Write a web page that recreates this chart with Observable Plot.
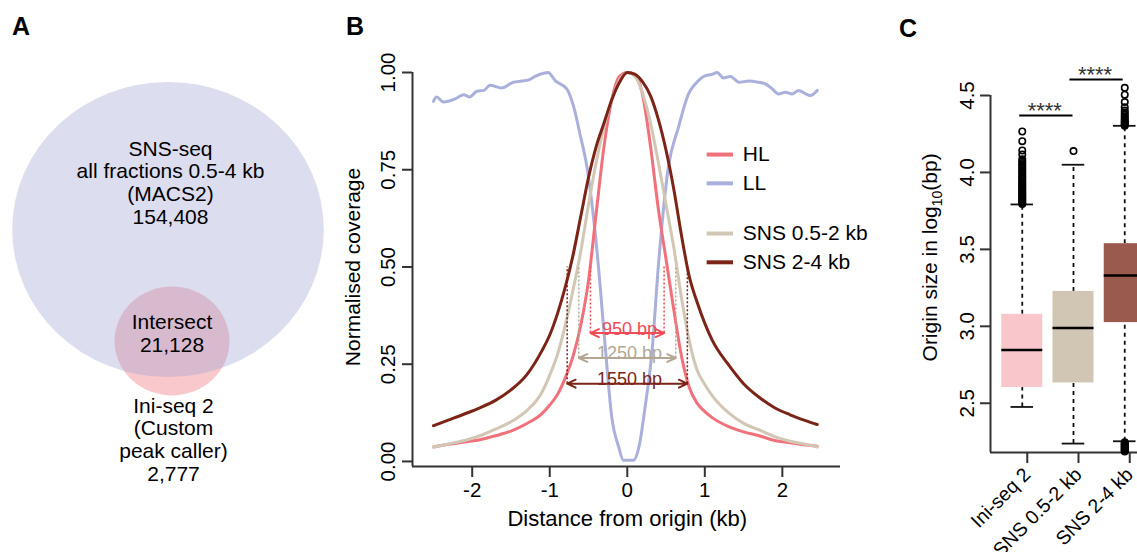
<!DOCTYPE html>
<html>
<head>
<meta charset="utf-8">
<script src="https://cdn.jsdelivr.net/npm/d3@7"></script>
<script src="https://cdn.jsdelivr.net/npm/@observablehq/plot@0.6"></script>
<style>
  html, body { margin: 0; padding: 0; background: #fff; overflow: hidden; }
  #fig { position: relative; width: 1137px; height: 552px; overflow: hidden; background: #fff;
         font-family: "Liberation Sans", Arial, sans-serif; }
  .panel { position: absolute; top: 0; }
  .letter { position: absolute; font-weight: bold; font-size: 25px; line-height: 25px; color: #000; z-index: 5; }
</style>
</head>
<body>
<div id="fig">
  <div class="panel" id="panelA" style="left:0px;width:330px;height:552px"></div>
  <div class="panel" id="panelB" style="left:330px;width:550px;height:552px"></div>
  <div class="panel" id="panelC" style="left:880px;width:280px;height:552px"></div>
  <div class="letter" style="left:12px;top:14px">A</div>
  <div class="letter" style="left:346px;top:14px">B</div>
  <div class="letter" style="left:899px;top:16px">C</div>
</div>
<script>
// ================= DATA =================
// Panel A: Venn counts
const snsOnlyCount = 154408;
const intersectCount = 21128;
const iniOnlyCount = 2777;
const vennSetNames = ["SNS-seq", "Ini-seq 2"];
const vennLabels = [
  "SNS-seq\nall fractions 0.5-4 kb\n(MACS2)\n154,408",
  "Intersect\n21,128",
  "Ini-seq 2\n(Custom\npeak caller)\n2,777"
];

// Panel B: coverage profiles (distance in kb, normalised coverage)
const profileX = [-2.5,-2.3,-2.1,-1.9,-1.7,-1.5,-1.3,-1.1,-1.0,-0.9,-0.8,-0.7,-0.6,-0.5,-0.4,-0.3,-0.2,-0.1,0,0.1,0.2,0.3,0.4,0.5,0.6,0.7,0.8,0.9,1.0,1.1,1.3,1.5,1.7,1.9,2.1,2.3,2.45];
const hlCoverage = [0.037,0.044,0.050,0.056,0.066,0.078,0.097,0.123,0.145,0.172,0.215,0.27,0.35,0.465,0.64,0.81,0.93,0.99,1.0,0.995,0.94,0.81,0.65,0.52,0.39,0.27,0.19,0.15,0.128,0.112,0.09,0.076,0.066,0.054,0.048,0.042,0.039];
const sns05Coverage = [0.037,0.045,0.054,0.066,0.083,0.102,0.13,0.178,0.222,0.275,0.35,0.44,0.54,0.66,0.77,0.86,0.93,0.98,1.0,0.99,0.945,0.87,0.77,0.66,0.55,0.42,0.31,0.235,0.198,0.168,0.126,0.098,0.081,0.064,0.052,0.044,0.037];
const sns24Coverage = [0.092,0.107,0.122,0.138,0.157,0.184,0.222,0.285,0.325,0.38,0.448,0.53,0.63,0.73,0.81,0.87,0.93,0.975,1.0,0.995,0.975,0.94,0.88,0.80,0.70,0.58,0.475,0.41,0.355,0.31,0.25,0.20,0.165,0.138,0.12,0.105,0.095];
const llX = [-2.5,-2.46,-2.37,-2.22,-2.11,-2.03,-1.94,-1.85,-1.77,-1.62,-1.47,-1.36,-1.27,-1.19,-1.08,-1.02,-0.93,-0.78,-0.69,-0.61,-0.52,-0.39,-0.28,-0.20,-0.11,-0.05,0.08,0.15,0.23,0.32,0.40,0.53,0.66,0.79,0.88,1.01,1.09,1.16,1.24,1.33,1.44,1.57,1.69,1.78,1.87,1.95,2.04,2.13,2.21,2.30,2.36,2.45];
const llCoverage = [0.926,0.937,0.924,0.932,0.943,0.937,0.952,0.954,0.967,0.960,0.975,0.978,0.981,0.990,0.998,1.0,0.979,0.958,0.911,0.842,0.757,0.54,0.285,0.114,0.037,0.003,0.003,0.037,0.14,0.285,0.50,0.757,0.859,0.945,0.971,0.992,0.995,1.0,0.986,0.990,0.975,0.978,0.975,0.971,0.958,0.945,0.949,0.945,0.954,0.945,0.941,0.954];
const seriesNames = ["HL", "LL", "SNS 0.5-2 kb", "SNS 2-4 kb"];
const widthSeries = ["HL", "SNS 0.5-2 kb", "SNS 2-4 kb"];
const halfMaxWidthsBp = [950, 1250, 1550];
const xTicksB = [-2, -1, 0, 1, 2];
const yTicksB = [0, 0.25, 0.5, 0.75, 1];

// Panel C: origin size boxplots (log10 bp)
const boxNames = ["Ini-seq 2", "SNS 0.5-2 kb", "SNS 2-4 kb"];
const boxLowerWhisker = [2.476, 2.238, 2.253];
const boxQ1 = [2.602, 2.632, 3.024];
const boxMedian = [2.846, 2.989, 3.331];
const boxQ3 = [3.078, 3.227, 3.537];
const boxUpperWhisker = [3.792, 4.050, 4.303];
const iniOutliers = [4.266,4.203,4.143,4.117,4.085,4.072,4.061,4.05,4.038,4.027,4.015,4.004,3.993,3.982,3.971,3.962,3.951,3.94,3.93,3.921,3.912,3.902,3.893,3.884,3.875,3.866,3.857,3.848,3.84,3.832,3.824,3.816,3.808,3.80,3.795];
const sns05Outliers = [4.139];
const sns24Outliers = [4.55,4.505,4.457,4.424,4.402,4.389,4.376,4.365,4.353,4.344,4.336,4.328,4.321,4.314,4.308,4.303,2.246,2.241,2.236,2.231,2.226,2.221,2.216,2.211,2.206,2.201,2.196,2.191,2.187];
const sigLabels = ["****", "****"];
const yTicksC = [2.5, 3.0, 3.5, 4.0, 4.5];

// ================= STYLE / LAYOUT =================
const FONT = "Liberation Sans, Arial, sans-serif";
const AXIS = "#333";
const seriesColors = {"HL": "#f0717b", "LL": "#aab0dc", "SNS 0.5-2 kb": "#d2c6b4", "SNS 2-4 kb": "#7b2417"};
const widthLabelColors = {"HL": "#f04b56", "SNS 0.5-2 kb": "#b3a794", "SNS 2-4 kb": "#7b2417"};
const widthArrowY = [0.33, 0.266, 0.20];
const legendY = [0.789, 0.715, 0.586, 0.512];
const boxColors = ["#f9c7cb", "#d1c5b3", "#9b5a4e"];
const sigLayout = [{x1: 0.95, x2: 1.99, y: 4.37}, {x1: 1.93, x2: 2.97, y: 4.604}];

// ================= PANEL A =================
const vennCircles = [
  {set: vennSetNames[0], total: snsOnlyCount + intersectCount, cx: 167.5, cy: 229},
  {set: vennSetNames[1], total: iniOnlyCount + intersectCount, cx: 171.5, cy: 340.5}
];
const vennTextRows = [
  {text: vennLabels[0], x: 170, y: 182},
  {text: vennLabels[1], x: 171.5, y: 333},
  {text: vennLabels[2], x: 173, y: 439}
];
const plotA = Plot.plot({
  width: 330, height: 552, margin: 0,
  x: {domain: [0, 330], range: [0, 330], axis: null},
  y: {domain: [0, 552], range: [0, 552], axis: null},
  r: {type: "sqrt", domain: [0, snsOnlyCount + intersectCount], range: [0, 147.5]},
  style: {fontFamily: FONT, fontSize: "21px", background: "transparent", overflow: "visible"},
  marks: [
    Plot.dot([vennCircles[1]], {x: "cx", y: "cy", r: "total", fill: "#f8c8cc", stroke: "none"}),
    Plot.dot([vennCircles[0]], {x: "cx", y: "cy", r: "total", fill: "rgb(160,162,210)", fillOpacity: 0.37, stroke: "none"}),
    Plot.text(vennTextRows, {x: "x", y: "y", text: "text", fontSize: 21, lineHeight: 1.075, fill: "#000"})
  ]
});
// stretch circles horizontally (the figure is slightly wider than tall)
plotA.querySelectorAll("circle").forEach(c => {
  const cx = +c.getAttribute("cx"), cy = +c.getAttribute("cy");
  c.setAttribute("transform", `translate(${cx},${cy}) scale(1.056,1) translate(${-cx},${-cy})`);
});
document.getElementById("panelA").appendChild(plotA);

// ================= PANEL B =================
const rowsOf = (xs, ys) => xs.map((x, i) => ({x, y: ys[i]}));
const xMinB = -2.77, xMaxB = 2.75, yMinB = -0.013;
const widthRows = widthSeries.map((s, i) => ({series: s, bp: halfMaxWidthsBp[i], half: halfMaxWidthsBp[i] / 2000, y: widthArrowY[i], color: widthLabelColors[s]}));
const widthEnds = widthRows.flatMap(d => [-1, 1].map(sg => ({...d, x: sg * d.half})));
const legendRows = seriesNames.map((s, i) => ({label: s, y: legendY[i], color: seriesColors[s]}));

const plotB = Plot.plot({
  width: 550, height: 552,
  marginLeft: 82, marginRight: 40, marginTop: 72, marginBottom: 86,
  x: {domain: [xMinB, xMaxB]},
  y: {domain: [yMinB, 1.0]},
  color: {type: "identity"},
  style: {fontFamily: FONT, fontSize: "20px", background: "transparent", overflow: "visible", color: "#000"},
  marks: [
    Plot.axisX({ticks: xTicksB, tickSize: 11, tickPadding: 5, tickFormat: d => String(d), label: null, stroke: AXIS, strokeWidth: 2, fill: "#000", fontSize: 20.5}),
    Plot.axisY({ticks: yTicksB, tickSize: 10, tickPadding: 8, tickRotate: -90, tickFormat: d3.format(".2f"), label: null, stroke: AXIS, strokeWidth: 2, fill: "#000", fontSize: 20.5}),
    Plot.ruleX([xMinB], {y1: yMinB, y2: 1.0, stroke: AXIS, strokeWidth: 2}),
    Plot.ruleY([yMinB], {x1: xMinB, x2: xMaxB, stroke: AXIS, strokeWidth: 2}),
    Plot.line(rowsOf(llX, llCoverage), {x: "x", y: "y", stroke: seriesColors["LL"], strokeWidth: 3, curve: "monotone-x"}),
    Plot.line(rowsOf(profileX, hlCoverage), {x: "x", y: "y", stroke: seriesColors["HL"], strokeWidth: 3, curve: "monotone-x"}),
    Plot.line(rowsOf(profileX, sns05Coverage), {x: "x", y: "y", stroke: seriesColors["SNS 0.5-2 kb"], strokeWidth: 3, curve: "monotone-x"}),
    Plot.line(rowsOf(profileX, sns24Coverage), {x: "x", y: "y", stroke: seriesColors["SNS 2-4 kb"], strokeWidth: 3, curve: "monotone-x"}),
    Plot.ruleX(widthEnds, {x: "x", y1: "y", y2: 0.5, stroke: "color", strokeWidth: 1.5, strokeDasharray: "2,2"}),
    Plot.arrow(widthEnds, {x1: 0, y1: "y", x2: "x", y2: "y", stroke: "color", strokeWidth: 2, headLength: 7, headAngle: 50}),
    Plot.text(widthRows, {x: 0.03, y: "y", text: d => `${d.bp} bp`, fill: "color", fontSize: 18, lineAnchor: "bottom", dy: 1.5}),
    Plot.ruleY(legendRows, {y: "y", x1: 1.03, x2: 1.37, stroke: "color", strokeWidth: 4}),
    Plot.text(legendRows, {x: 1.49, y: "y", text: "label", textAnchor: "start", fontSize: 21, fill: "#000"}),
    Plot.text(["Normalised coverage"], {x: xMinB, y: 0.5, dx: -59, rotate: -90, fontSize: 21, fill: "#000"}),
    Plot.text(["Distance from origin (kb)"], {x: 0, y: yMinB, dy: 52, fontSize: 22, fill: "#000"})
  ]
});
document.getElementById("panelB").appendChild(plotB);

// ================= PANEL C =================
const xMinC = 0.38, xMaxC = 3.62, yMinC = 2.18, yMaxC = 4.5;
const boxRows = boxNames.map((name, i) => ({
  name, pos: i + 1, lo: boxLowerWhisker[i], q1: boxQ1[i], median: boxMedian[i],
  q3: boxQ3[i], hi: boxUpperWhisker[i], color: boxColors[i]
}));
const outlierRows = [iniOutliers, sns05Outliers, sns24Outliers]
  .flatMap((vals, i) => vals.map(v => ({pos: i + 1, v})));
const sigRows = sigLabels.map((label, i) => ({label, ...sigLayout[i]}));

const plotC = Plot.plot({
  width: 280, height: 552,
  marginLeft: 110, marginRight: 4, marginTop: 95, marginBottom: 100,
  x: {domain: [xMinC, xMaxC]},
  y: {domain: [yMinC, yMaxC]},
  color: {type: "identity"},
  style: {fontFamily: FONT, fontSize: "20px", background: "transparent", overflow: "visible", color: "#000"},
  marks: [
    Plot.axisY({ticks: yTicksC, tickSize: 10, tickPadding: 7, tickRotate: -90, tickFormat: d3.format(".1f"), label: null, stroke: AXIS, strokeWidth: 2, fill: "#000", fontSize: 20.5}),
    Plot.axisX({ticks: [1, 2, 3], tickSize: 11, tickPadding: 8, tickRotate: -45, dx: 5, tickFormat: i => boxNames[i - 1], label: null, stroke: AXIS, strokeWidth: 2, fill: "#000", fontSize: 19.5}),
    Plot.ruleX([xMinC], {y1: yMinC, y2: yMaxC, stroke: AXIS, strokeWidth: 2}),
    Plot.ruleY([yMinC], {x1: xMinC, x2: xMaxC, stroke: AXIS, strokeWidth: 2}),
    Plot.ruleX(boxRows, {x: "pos", y1: "q3", y2: "hi", stroke: "#111", strokeWidth: 1.8, strokeDasharray: "4,4"}),
    Plot.ruleX(boxRows, {x: "pos", y1: "lo", y2: "q1", stroke: "#111", strokeWidth: 1.8, strokeDasharray: "4,4"}),
    Plot.ruleY(boxRows, {y: "hi", x1: d => d.pos - 0.22, x2: d => d.pos + 0.22, stroke: "#111", strokeWidth: 1.8}),
    Plot.ruleY(boxRows, {y: "lo", x1: d => d.pos - 0.22, x2: d => d.pos + 0.22, stroke: "#111", strokeWidth: 1.8}),
    Plot.rect(boxRows, {x1: d => d.pos - 0.4, x2: d => d.pos + 0.4, y1: "q1", y2: "q3", fill: "color"}),
    Plot.ruleY(boxRows, {y: "median", x1: d => d.pos - 0.4, x2: d => d.pos + 0.4, stroke: "#000", strokeWidth: 2.5}),
    Plot.dot(outlierRows, {x: "pos", y: "v", r: 3.2, stroke: "#000", strokeWidth: 1.6, fill: "none"}),
    Plot.ruleY(sigRows, {y: "y", x1: "x1", x2: "x2", stroke: "#000", strokeWidth: 2}),
    Plot.text(sigRows, {x: d => (d.x1 + d.x2) / 2 - 0.03, y: "y", text: "label", lineAnchor: "bottom", dy: 2.5, fontSize: 22, fill: "#333"}),
    Plot.text(["Origin size in log10(bp)"], {x: xMinC, y: 3.448, dx: -60, rotate: -90, fontSize: 21, fill: "#000"})
  ]
});
// subscript "10"
plotC.querySelectorAll("text").forEach(t => {
  if (t.textContent === "Origin size in log10(bp)") {
    const NS = "http://www.w3.org/2000/svg";
    t.textContent = "";
    const a = document.createElementNS(NS, "tspan"); a.textContent = "Origin size in log";
    const b = document.createElementNS(NS, "tspan"); b.textContent = "10"; b.setAttribute("dy", "5"); b.setAttribute("font-size", "14");
    const c = document.createElementNS(NS, "tspan"); c.textContent = "(bp)"; c.setAttribute("dy", "-5");
    t.appendChild(a); t.appendChild(b); t.appendChild(c);
  }
});
document.getElementById("panelC").appendChild(plotC);
</script>
</body>
</html>
